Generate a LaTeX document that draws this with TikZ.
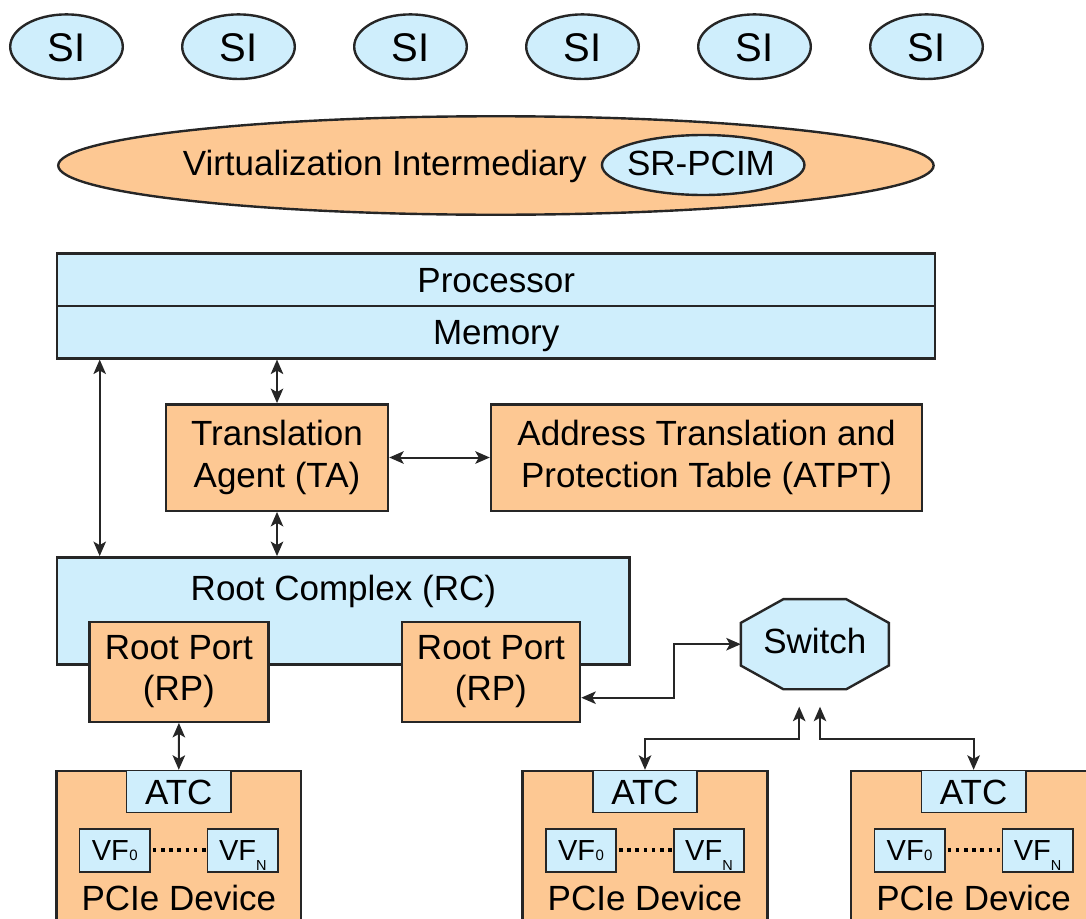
\documentclass[tikz,border=0pt]{standalone}
\usepackage{fontspec}
\setmainfont{Liberation Sans}
\usetikzlibrary{shapes.geometric,arrows.meta,calc}

\definecolor{boxblue}{RGB}{207,238,252}
\definecolor{boxorange}{RGB}{253,200,147}
\definecolor{linegray}{RGB}{38,38,38}

\newcommand\bigfs{\fontsize{35}{41.7}\selectfont}
\newcommand\sifs{\fontsize{40}{44}\selectfont}
\newcommand\vffs{\fontsize{29}{30}\selectfont}

\begin{document}
\begin{tikzpicture}[x=1pt,y=-1pt,
  outline/.style={draw=linegray, line width=2.4pt},
  bluebox/.style={outline, fill=boxblue, inner sep=0pt, font=\bigfs},
  orangebox/.style={outline, fill=boxorange, inner sep=0pt, font=\bigfs},
  oneline/.style={text height=25pt, text depth=0pt},
  smallbox/.style={draw=linegray, line width=1.6pt, fill=boxblue, inner sep=0pt},
  guest/.style={ellipse, outline, fill=boxblue, inner sep=0pt,
    minimum width=112.6pt, minimum height=64.6pt, font=\sifs,
    text height=28.6pt, text depth=0pt},
  label/.style={font=\bigfs, inner sep=0pt, anchor=base},
  link/.style={draw=linegray, line width=2pt,
    {Stealth[length=14.5pt,width=12.5pt,inset=3.5pt]}-{Stealth[length=14.5pt,width=12.5pt,inset=3.5pt]}},
  dotline/.style={draw=black, line width=3.6pt, dash pattern=on 3.6pt off 4.6pt},
  vfbox/.style={smallbox, minimum width=70.4pt, minimum height=43pt, font=\vffs,
    text height=20.5pt, text depth=0pt}
]
\useasboundingbox (0,0) rectangle (1086,918);
\clip (0,0) rectangle (1086,918);

% system images
\foreach \i in {0,...,5}
  \node[guest] (si\i) at (66.5+172*\i, 46.7) {SI};

% virtualization intermediary with the SR-PCIM
\node[ellipse, outline, fill=boxorange, inner sep=0pt,
      minimum width=875.4pt, minimum height=98.5pt] (vi) at (495.9,165.5) {};
\node[label] (vitext) at (384.8,175) {Virtualization Intermediary};
\node[ellipse, outline, fill=boxblue, inner sep=0pt,
      minimum width=202.5pt, minimum height=60pt] (pcim) at (703.2,165) {};
\node[label] (pcimtext) at (701,175) {SR-PCIM};

% processor and memory
\node[bluebox, oneline, minimum width=878pt, minimum height=52.7pt] (proc) at (496.2,279.7) {Processor};
\node[bluebox, oneline, minimum width=878pt, minimum height=52.3pt] (mem) at (496.2,332.2) {Memory};

% translation agent and table
\node[orangebox, align=center, minimum width=222pt, minimum height=106.4pt] (ta) at (277,457.5) {Translation\\Agent (TA)};
\node[orangebox, align=center, minimum width=431pt, minimum height=106.4pt] (atpt) at (706.5,457.5) {Address Translation and\\Protection Table (ATPT)};

% root complex and its ports
\node[bluebox, minimum width=572.5pt, minimum height=107pt] (rc) at (343.4,610.8) {};
\node[label] (rctext) at (343.4,600) {Root Complex (RC)};
\node[orangebox, align=center, minimum width=179pt, minimum height=100pt] (rp1) at (178.9,671.7) {Root Port\\(RP)};
\node[orangebox, align=center, minimum width=178.3pt, minimum height=100pt] (rp2) at (490.9,671.7) {Root Port\\(RP)};

% switch
\node[inner sep=0pt, minimum width=147.6pt, minimum height=89.7pt] (sw) at (814.8,644.2) {};
\draw[outline, fill=boxblue]
  ($(sw.north west)+(42.6,0)$) -- ($(sw.north east)+(-42.6,0)$)
  -- ($(sw.north east)+(0,23.7)$) -- ($(sw.south east)+(0,-23.7)$)
  -- ($(sw.south east)+(-42.6,0)$) -- ($(sw.south west)+(42.6,0)$)
  -- ($(sw.south west)+(0,-23.7)$) -- ($(sw.north west)+(0,23.7)$) -- cycle;
\node[label] (swtext) at (814.8,653.3) {Switch};

% PCIe devices
\foreach \n/\cx in {1/178.8, 2/645, 3/973.6} {
  \node[orangebox, minimum width=244.8pt, minimum height=189pt] (dev\n) at (\cx,865.5) {};
  \node[smallbox, font=\bigfs, oneline, minimum width=104.4pt, minimum height=42pt, anchor=north]
    (atc\n) at (dev\n.north) {ATC};
  \node[vfbox] (vfa\n) at (\cx-64,850.2) {VF\kern0.5pt{\fontsize{15}{15}\selectfont 0}};
  \node[vfbox] (vfb\n) at (\cx+64,850.2) {VF\raisebox{-10pt}{\fontsize{14.5}{15}\selectfont N}};
  \draw[dotline] ([xshift=2pt]vfa\n.east) -- (vfb\n.west);
  \node[label] (devtext\n) at (\cx,910) {PCIe Device};
}

% connections
\coordinate (lx) at (99.7,0);
\coordinate (k1) at (673.5,0);
\coordinate (swl) at (799.2,706.7);
\coordinate (swr) at (820,706.7);
\coordinate (bus) at (0,739);

\draw[link] (mem.south -| lx) -- (rc.north -| lx);
\draw[link] (mem.south -| ta.north) -- (ta.north);
\draw[link] (ta.south) -- (rc.north -| ta.south);
\draw[link] (ta.east) -- (atpt.west);
\draw[link] (rp1.south) -- (atc1.north);
\draw[link] ([yshift=-26pt]rp2.east) -| (k1 |- sw.west) -- (sw.west);
\draw[link] (swl) -- (swl |- bus) -| (atc2.north);
\draw[link] (swr) -- (swr |- bus) -| (atc3.north);
\end{tikzpicture}
\end{document}
